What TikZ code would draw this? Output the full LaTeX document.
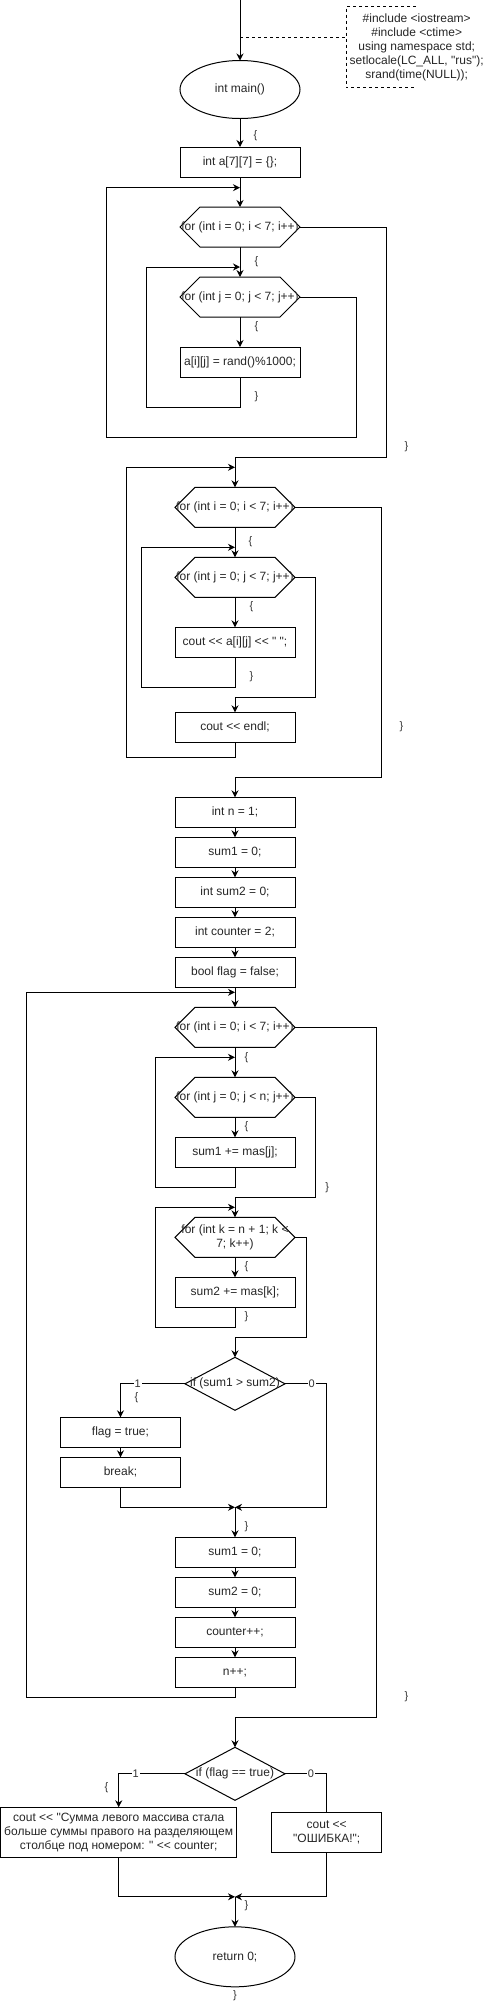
\documentclass[tikz,border=0pt]{standalone}
\usepackage{fontspec}
\newfontfamily\flowfont{Liberation Sans}
\usetikzlibrary{positioning,arrows.meta,shapes.geometric}

\begin{document}
\begin{tikzpicture}[
x=1pt, y=-1pt, line width=1pt,
textstyle/.style={font=\flowfont\fontsize{12}{14}\selectfont, text=black!85},
procnode/.style={rectangle, draw, textstyle, minimum width=120pt, minimum height=30pt, inner sep=2pt, outer sep=0pt},
termnode/.style={ellipse, draw, textstyle, minimum width=120pt, minimum height=58pt, outer sep=0pt},
hexnode/.style={textstyle, align=center, minimum width=120pt, minimum height=40pt, inner sep=0pt, outer sep=0pt,
  append after command={\pgfextra{\draw (\tikzlastnode.west) -- ([xshift=20pt]\tikzlastnode.north west)
    -- ([xshift=-20pt]\tikzlastnode.north east) -- (\tikzlastnode.east)
    -- ([xshift=-20pt]\tikzlastnode.south east) -- ([xshift=20pt]\tikzlastnode.south west) -- cycle;}}},
decnode/.style={textstyle, minimum width=100pt, minimum height=53pt, inner sep=0pt, outer sep=0pt,
  append after command={\pgfextra{\draw (\tikzlastnode.north) -- (\tikzlastnode.east)
    -- (\tikzlastnode.south) -- (\tikzlastnode.west) -- cycle;}}},
notenode/.style={textstyle, align=center, minimum width=140pt, minimum height=80pt, inner sep=0pt},
bracelabel/.style={font=\flowfont\fontsize{11}{13}\selectfont, text=black!80, inner sep=1pt},
edgelabel/.style={bracelabel, fill=white},
arrowline/.style={-{Stealth[length=7pt,width=7pt]}},
]
\useasboundingbox (0,0) rectangle (497,2008);

%Nodes
\coordinate (start) at (240,0);
\coordinate (tap) at (240,37.3);
\node[notenode]  (header)   at (416.7,47) {\#include <iostream>\\\#include <ctime>\\using namespace std;\\setlocale(LC\_ALL, "rus");\\srand(time(NULL));};
\node[termnode]  (mainfunc) at (240,89.5) {int main()};
\node[procnode]  (arrinit)    [below=28.5pt of mainfunc]  {int a[7][7] = \{\};};
\node[hexnode]   (fillouter)  [below=30pt of arrinit]     {for (int i = 0; i < 7; i++)};
\node[hexnode]   (fillinner)  [below=30pt of fillouter]   {for (int j = 0; j < 7; j++)};
\node[procnode]  (fillcell)   [below=30pt of fillinner]   {a[i][j] = rand()\%1000;};

\node[hexnode]   (printouter) at (235,507.3)              {for (int i = 0; i < 7; i++)};
\node[hexnode]   (printinner) [below=30pt of printouter]  {for (int j = 0; j < 7; j++)};
\node[procnode]  (printcell)  [below=30pt of printinner]  {cout << a[i][j] << " ";};
\node[procnode]  (printendl)  [below=55pt of printcell]   {cout << endl;};

\node[procnode]  (initn)       [below=55pt of printendl]   {int n = 1;};
\node[procnode]  (initsumone)  [below=10pt of initn]       {sum1 = 0;};
\node[procnode]  (initsumtwo)  [below=10pt of initsumone]  {int sum2 = 0;};
\node[procnode]  (initcounter) [below=10pt of initsumtwo]  {int counter = 2;};
\node[procnode]  (initflag)    [below=10pt of initcounter] {bool flag = false;};

\node[hexnode]   (sumouter)  [below=20pt of initflag]  {for (int i = 0; i < 7; i++)};
\node[hexnode]   (sumleft)   [below=30pt of sumouter]  {for (int j = 0; j < n; j++)};
\node[procnode]  (addleft)   [below=20pt of sumleft]   {sum1 += mas[j];};
\node[hexnode]   (sumright)  [below=50pt of addleft]   {for (int k = n + 1; k <\\7; k++)};
\node[procnode]  (addright)  [below=20pt of sumright]  {sum2 += mas[k];};
\node[decnode]   (compare)   [below=50pt of addright]  {if (sum1 > sum2)};
\node[procnode]  (setflag)   at (120.5,1432.3)         {flag = true;};
\node[procnode]  (stop)      [below=10pt of setflag]   {break;};
\node[procnode]  (resetone)   [below=127pt of compare]  {sum1 = 0;};
\node[procnode]  (resettwo)   [below=10pt of resetone]  {sum2 = 0;};
\node[procnode]  (inccounter) [below=10pt of resettwo]  {counter++;};
\node[procnode]  (incn)       [below=10pt of inccounter] {n++;};

\node[decnode]   (checkflag)  [below=60pt of incn] {if (flag == true)};
\node[procnode, minimum width=236pt, minimum height=50pt, align=center] (printresult) at (118.7,1832.3)
  {cout << "Сумма левого массива стала\\больше суммы правого на разделяющем\\столбце под номером: " << counter;};
\node[procnode, minimum width=110pt, minimum height=40pt, align=center] (printerror) at (326.7,1832.3)
  {cout <<\\"ОШИБКА!";};
\node[termnode, minimum height=60pt] (retzero) [below=126.5pt of checkflag] {return 0;};
\node[bracelabel] (retclose) [below=2pt of retzero] {\}};

\coordinate (filloutback)  at ([yshift=19.3pt]fillouter.north);
\coordinate (fillinnerback) at ([yshift=10pt]fillinner.north);
\coordinate (printoutback) at ([yshift=20pt]printouter.north);
\coordinate (printinnerback) at ([yshift=10pt]printinner.north);
\coordinate (sumoutback)   at ([yshift=15pt]sumouter.north);
\coordinate (sumleftback)  at ([yshift=20pt]sumleft.north);
\coordinate (sumrightback) at ([yshift=10pt]sumright.north);
\coordinate (compareend)   at ([yshift=30pt]resetone.north);
\coordinate (checkend)     at ([yshift=30pt]retzero.north);

%Lines
\draw[arrowline] (start) -- (mainfunc);
\draw[dashed] (tap) -- (header.west |- tap);
\draw[dashed] ([xshift=70pt]header.north west) -- (header.north west) -- (header.south west) -- ([xshift=70pt]header.south west);
\draw[arrowline] (mainfunc) -- node[bracelabel, pos=0.59, right=12pt] {\{} (arrinit);
\draw[arrowline] (arrinit) -- (fillouter);
\draw[arrowline] (fillouter) -- node[bracelabel, pos=0.48, right=13pt] {\{} (fillinner);
\draw[arrowline] (fillinner) -- node[bracelabel, pos=0.31, right=13pt] {\{} (fillcell);
\draw[arrowline] (fillcell.south) -- node[bracelabel, pos=0.65, right=13pt] {\}} ++(0,30) -- ++(-93.3,0) |- (fillinnerback);
\draw[arrowline] (fillinner.east) -| ++(56.7,140) -- ++(-250,0) |- (filloutback);
\draw[arrowline] (fillouter.east) -- ++(86,0) -- node[bracelabel, pos=0.954, right=17pt] {\}} ++(0,230) -| (printouter.north);

\draw[arrowline] (printouter) -- node[bracelabel, pos=0.48, right=12pt] {\{} (printinner);
\draw[arrowline] (printinner) -- node[bracelabel, pos=0.31, right=13pt] {\{} (printcell);
\draw[arrowline] (printcell.south) -- node[bracelabel, pos=0.65, right=13pt] {\}} ++(0,30) -- ++(-93.3,0) |- (printinnerback);
\draw[arrowline] (printinner.east) -- ++(20.3,0) -- ++(0,120) -| (printendl.north);
\draw[arrowline] (printendl.south) -- ++(0,15) -- ++(-108.3,0) |- (printoutback);
\draw[arrowline] (printouter.east) -- ++(86,0) -- node[bracelabel, pos=0.813, right=17pt] {\}} ++(0,270) -| (initn.north);

\draw[arrowline] (initn) -- (initsumone);
\draw[arrowline] (initsumone) -- (initsumtwo);
\draw[arrowline] (initsumtwo) -- (initcounter);
\draw[arrowline] (initcounter) -- (initflag);
\draw[arrowline] (initflag) -- (sumouter);

\draw[arrowline] (sumouter) -- node[bracelabel, pos=0.33, right=8pt] {\{} (sumleft);
\draw[arrowline] (sumleft) -- node[bracelabel, pos=0.47, right=8pt] {\{} (addleft);
\draw[arrowline] (addleft.south) -- ++(0,20) -- ++(-79.3,0) |- (sumleftback);
\draw[arrowline] (sumleft.east) -- ++(20.3,0) -- node[bracelabel, pos=0.9, right=8.5pt] {\}} ++(0,100) -| (sumright.north);
\draw[arrowline] (sumright) -- node[bracelabel, pos=0.47, right=8pt] {\{} (addright);
\draw[arrowline] (addright.south) -- node[bracelabel, pos=0.47, right=8pt] {\}} ++(0,20) -- ++(-79.3,0) |- (sumrightback);
\draw[arrowline] (sumright.east) -- ++(11.7,0) -- ++(0,100) -| (compare.north);
\draw[arrowline] (compare.west) -| node[edgelabel, pos=0.367] {1} node[bracelabel, pos=0.7, right=12.5pt] {\{} (setflag.north);
\draw[arrowline] (setflag) -- (stop);
\draw[arrowline] (stop.south) |- (compareend);
\draw[arrowline] (compare.east) -- node[edgelabel, pos=0.64] {0} ++(41.7,0) |- (compareend);
\draw[arrowline] (compareend) -- node[bracelabel, pos=0.65, right=8pt] {\}} (resetone.north);
\draw[arrowline] (resetone) -- (resettwo);
\draw[arrowline] (resettwo) -- (inccounter);
\draw[arrowline] (inccounter) -- (incn);
\draw[arrowline] (incn.south) -- ++(0,10) -- ++(-208.3,0) |- (sumoutback);
\draw[arrowline] (sumouter.east) -- ++(81.7,0) -- node[bracelabel, pos=0.970, right=26.5pt] {\}} ++(0,690) -| (checkflag.north);

\draw[arrowline] (checkflag.west) -| node[edgelabel, pos=0.372] {1} node[bracelabel, pos=0.7, left=9pt] {\{} (printresult.north);
\draw (checkflag.east) -| node[edgelabel, pos=0.31] {0} (printerror.north);
\draw[arrowline] (printresult.south) |- (checkend);
\draw[arrowline] (printerror.south) |- (checkend);
\draw[arrowline] (checkend) -- node[bracelabel, pos=0.31, right=8pt] {\}} (retzero.north);
\end{tikzpicture}
\end{document}
